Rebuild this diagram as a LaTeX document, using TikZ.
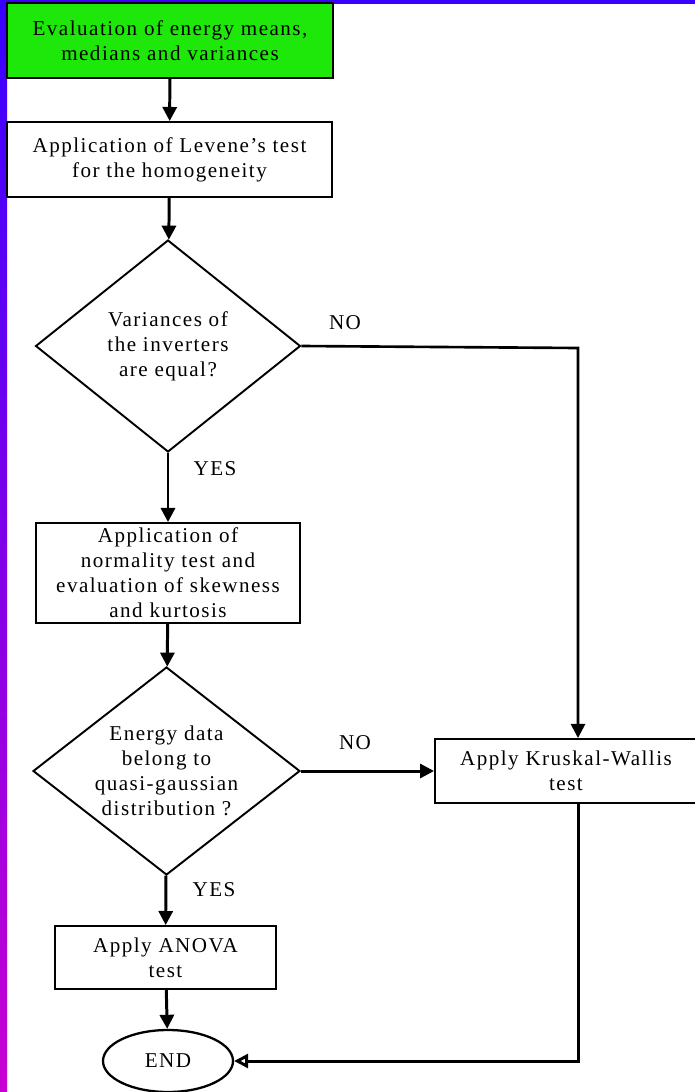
\documentclass[tikz,border=0pt]{standalone}
\usepackage{fontspec}
\setmainfont{Liberation Serif}[LetterSpace=7]
\usetikzlibrary{shapes.geometric,arrows.meta}
\definecolor{evalgreen}{RGB}{30,232,10}
\definecolor{edgeblue}{RGB}{55,0,255}
\definecolor{edgemagenta}{RGB}{200,0,210}

\begin{document}
\begin{tikzpicture}[
  x=0.02cm, y=-0.02cm,
  txt/.style={font=\fontsize{12}{14.2}\selectfont},
  process/.style={draw, line width=1.1pt, align=center, inner sep=2pt, txt},
  decision/.style={draw, diamond, line width=1.1pt, align=center, inner sep=-8pt, txt},
  terminal/.style={draw, ellipse, line width=1.3pt, inner sep=0pt, txt},
  flow/.style={line width=1.7pt, -{Triangle[length=8pt,width=8pt]}},
  answer/.style={txt}
]
  % Page frame and coloured edge
  \useasboundingbox (0,0) rectangle (695,1092);
  \shade[top color=edgeblue, bottom color=edgemagenta] (0,0) rectangle (7,1092);
  \fill[edgeblue] (0,0) rectangle (695,3.5);

  % Steps of the procedure
  \node[process, fill=evalgreen, minimum width=6.52cm, minimum height=1.5cm] (eval) at (170,40.5)
    {Evaluation of energy means,\\ medians and variances};
  \node[process, minimum width=6.5cm, minimum height=1.5cm] (levene) at (169.5,159.5)
    {Application of Levene's test\\ for the homogeneity};
  \node[decision, minimum width=5.3cm, minimum height=4.24cm] (var) at (168,346)
    {Variances of\\ the inverters\\ are equal?};
  \node[process, minimum width=5.28cm, minimum height=2cm] (normal) at (168,573)
    {Application of\\ normality test and\\ evaluation of skewness\\ and kurtosis};
  \node[decision, minimum width=5.34cm, minimum height=4.16cm] (gauss) at (166.5,771)
    {Energy data\\ belong to\\ quasi-gaussian\\ distribution ?};
  \node[process, minimum width=5.24cm, minimum height=1.28cm] (kruskal) at (566,771)
    {Apply Kruskal-Wallis\\ test};
  \node[process, minimum width=4.42cm, minimum height=1.26cm] (anova) at (165.5,957.5)
    {Apply ANOVA\\ test};
  \node[terminal, minimum width=2.6cm, minimum height=1.24cm] (end) at (168,1061) {END};

  % Corner of the NO branch
  \coordinate (turn) at (578,348);

  % Connectors
  \draw[flow] (eval) -- (levene);
  \draw[flow] (levene) -- (var);
  \draw[flow] (var) -- (normal);
  \draw[flow] (normal) -- (gauss);
  \draw[flow] (gauss) -- (kruskal);
  \draw[flow] (gauss) -- (anova);
  \draw[flow] (anova) -- (end);
  \draw[flow, line width=1.5pt] (var.east) -- (turn) -- (turn |- kruskal.north);
  \draw[line width=1.7pt, -{Triangle[open,length=8pt,width=8pt]}]
    (turn |- kruskal.south) -- (turn |- end.east) -- (end.east);

  % Answers
  \node[answer] (yes1) at (215,469) {YES};
  \node[answer] (no1) at (345,323) {NO};
  \node[answer] (no2) at (355,743) {NO};
  \node[answer] (yes2) at (214,890) {YES};
\end{tikzpicture}
\end{document}
